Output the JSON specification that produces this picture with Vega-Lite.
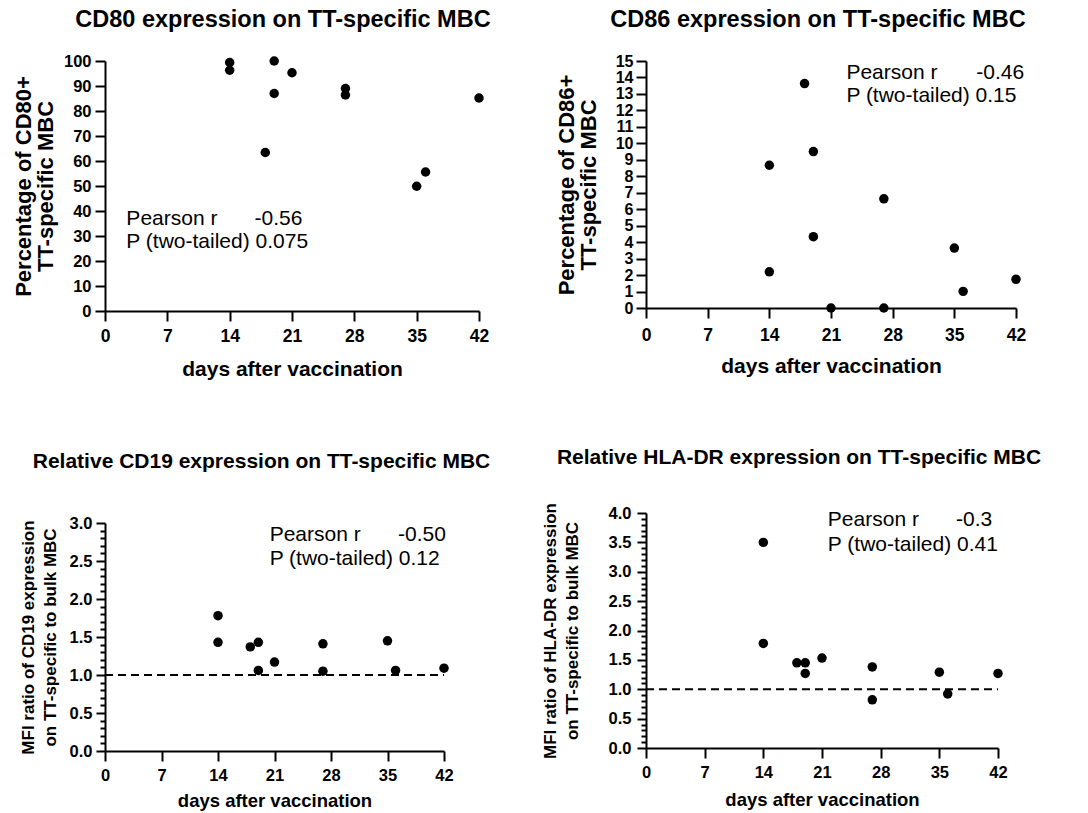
{
  "$schema": "https://vega.github.io/schema/vega-lite/v6.json",
  "background": "white",
  "padding": {"left": 12, "top": 7, "right": 5, "bottom": 3},
  "datasets": {
    "cd80": [
      {"day": 14, "value": 99.4}, {"day": 14, "value": 96.3}, {"day": 18, "value": 63.4},
      {"day": 19, "value": 100}, {"day": 19, "value": 87}, {"day": 21, "value": 95.3},
      {"day": 27, "value": 89}, {"day": 27, "value": 86.4}, {"day": 35, "value": 49.9},
      {"day": 36, "value": 55.6}, {"day": 42, "value": 85.2}
    ],
    "cd86": [
      {"day": 14, "value": 8.67}, {"day": 14, "value": 2.2}, {"day": 18, "value": 13.63},
      {"day": 19, "value": 9.5}, {"day": 19, "value": 4.33}, {"day": 21, "value": 0},
      {"day": 27, "value": 6.63}, {"day": 27, "value": 0}, {"day": 35, "value": 3.64},
      {"day": 36, "value": 1.01}, {"day": 42, "value": 1.74}
    ],
    "cd19": [
      {"day": 14, "value": 1.78}, {"day": 14, "value": 1.43}, {"day": 18, "value": 1.37},
      {"day": 19, "value": 1.43}, {"day": 19, "value": 1.06}, {"day": 21, "value": 1.17},
      {"day": 27, "value": 1.41}, {"day": 27, "value": 1.05}, {"day": 35, "value": 1.45},
      {"day": 36, "value": 1.06}, {"day": 42, "value": 1.09}
    ],
    "hladr": [
      {"day": 14, "value": 3.5}, {"day": 14, "value": 1.78}, {"day": 18, "value": 1.45},
      {"day": 19, "value": 1.45}, {"day": 19, "value": 1.27}, {"day": 21, "value": 1.53},
      {"day": 27, "value": 1.38}, {"day": 27, "value": 0.82}, {"day": 35, "value": 1.29},
      {"day": 36, "value": 0.92}, {"day": 42, "value": 1.27}
    ],
    "refline": [
      {"day": 0, "day2": 42, "value": 1}
    ],
    "s1": [
      {"day": 2.4, "value": 36.7, "label": "Pearson r"},
      {"day": 16.8, "value": 36.7, "label": "-0.56"},
      {"day": 2.4, "value": 27.5, "label": "P (two-tailed) 0.075"}
    ],
    "s2": [
      {"day": 22.75, "value": 14.3, "label": "Pearson r"},
      {"day": 37.5, "value": 14.3, "label": "-0.46"},
      {"day": 22.75, "value": 12.86, "label": "P (two-tailed) 0.15"}
    ],
    "s3": [
      {"day": 20.4, "value": 2.846, "label": "Pearson r"},
      {"day": 36.3, "value": 2.846, "label": "-0.50"},
      {"day": 20.4, "value": 2.53, "label": "P (two-tailed) 0.12"}
    ],
    "s4": [
      {"day": 21.7, "value": 3.874, "label": "Pearson r"},
      {"day": 37.0, "value": 3.874, "label": "-0.3"},
      {"day": 21.7, "value": 3.46, "label": "P (two-tailed) 0.41"}
    ]
  },
  "config": {
    "font": "Liberation Sans",
    "view": {"stroke": null},
    "axis": {
      "grid": false, "domainColor": "black", "domainWidth": 2, "tickColor": "black",
      "tickWidth": 2, "tickSize": 10, "labelColor": "black", "labelFontWeight": "bold",
      "labelFontSize": 17.5, "titleColor": "black", "titleFontWeight": "bold",
      "titleFontSize": 21, "labelPadding": 4, "titlePadding": 6, "labelFlush": false,
      "labelOverlap": false, "titleLineHeight": 21.5, "tickCount": 100
    },
    "axisX": {"labelPadding": 6, "titlePadding": 14, "format": "d"},
    "axisY": {"titleFontSize": 22, "labelFontSize": 16.5},
    "title": {"font": "Liberation Sans", "fontWeight": "bold", "fontSize": 23.5, "color": "black"},
    "text": {"font": "Liberation Sans"}
  },
  "spacing": 50,
  "hconcat": [
    {
      "bounds": "flush",
      "spacing": 212,
      "vconcat": [
        {
          "width": 374, "height": 250,
          "title": {"text": "CD80 expression on TT-specific MBC", "dx": -9, "offset": 22},
          "layer": [
            {
              "data": {"name": "cd80"},
              "mark": {"type": "circle", "size": 90, "color": "black", "opacity": 1},
              "encoding": {
                "x": {"field": "day", "type": "quantitative", "scale": {"domain": [0, 42], "nice": false},
                      "axis": {"values": [0, 7, 14, 21, 28, 35, 42], "title": "days after vaccination"}},
                "y": {"field": "value", "type": "quantitative", "scale": {"domain": [0, 100], "nice": false},
                      "axis": {"values": [0, 10, 20, 30, 40, 50, 60, 70, 80, 90, 100], "format": "d", "title": ["Percentage of CD80+", "TT-specific MBC"], "titlePadding": 6}}
              }
            },
            {
              "data": {"name": "s1"},
              "mark": {"type": "text", "align": "left", "baseline": "middle", "fontSize": 21, "color": "black"},
              "encoding": {
                "x": {"field": "day", "type": "quantitative"},
                "y": {"field": "value", "type": "quantitative"},
                "text": {"field": "label"}
              }
            }
          ]
        },
        {
          "width": 339, "height": 228,
          "title": {"text": "Relative CD19 expression on TT-specific MBC", "dx": -13, "offset": 43, "fontSize": 21},
          "resolve": {"axis": {"y": "independent"}},
          "layer": [
            {
              "data": {"name": "cd19"},
              "mark": {"type": "circle", "size": 90, "color": "black", "opacity": 1},
              "encoding": {
                "x": {"field": "day", "type": "quantitative", "scale": {"domain": [0, 42], "nice": false},
                      "axis": {"values": [0, 7, 14, 21, 28, 35, 42], "title": "days after vaccination", "labelFontSize": 16.5, "titleFontSize": 18.5, "labelPadding": 6, "titlePadding": 8}},
                "y": {"field": "value", "type": "quantitative", "scale": {"domain": [0, 3], "nice": false},
                      "axis": {
                        "orient": "left",
                        "values": [0, 0.5, 1, 1.5, 2, 2.5, 3], "format": ".1f", "tickSize": 9,
                        "labelFontSize": 16.5, "titleFontSize": 17, "titlePadding": 10,
                        "title": ["MFI ratio of CD19 expression", "on TT-specific to bulk MBC"]}}
              }
            },
            {
              "data": {"name": "refline"},
              "mark": {"type": "rule", "strokeDash": [8, 5], "strokeWidth": 2, "color": "black"},
              "encoding": {
                "y": {"field": "value", "type": "quantitative",
                      "axis": {"orient": "left", "values": [0.1, 0.2, 0.3, 0.4, 0.6, 0.7, 0.8, 0.9, 1.1, 1.2, 1.3, 1.4, 1.6, 1.7, 1.8, 1.9, 2.1, 2.2, 2.3, 2.4, 2.6, 2.7, 2.8, 2.9],
                               "tickSize": 5, "labels": false, "domain": false, "title": null}},
                "x": {"field": "day", "type": "quantitative"},
                "x2": {"field": "day2"}
              }
            },
            {
              "data": {"name": "s3"},
              "mark": {"type": "text", "align": "left", "baseline": "middle", "fontSize": 21, "color": "black"},
              "encoding": {
                "x": {"field": "day", "type": "quantitative"},
                "y": {"field": "value", "type": "quantitative", "axis": null},
                "text": {"field": "label"}
              }
            }
          ]
        }
      ]
    },
    {
      "bounds": "flush",
      "spacing": 205,
      "vconcat": [
        {
          "width": 370, "height": 247,
          "title": {"text": "CD86 expression on TT-specific MBC", "dx": -13, "offset": 22},
          "layer": [
            {
              "data": {"name": "cd86"},
              "mark": {"type": "circle", "size": 90, "color": "black", "opacity": 1},
              "encoding": {
                "x": {"field": "day", "type": "quantitative", "scale": {"domain": [0, 42], "nice": false},
                      "axis": {"values": [0, 7, 14, 21, 28, 35, 42], "title": "days after vaccination", "labelPadding": 8, "titlePadding": 12}},
                "y": {"field": "value", "type": "quantitative", "scale": {"domain": [0, 15], "nice": false},
                      "axis": {"values": [0, 1, 2, 3, 4, 5, 6, 7, 8, 9, 10, 11, 12, 13, 14, 15], "format": "d", "labelFontSize": 16, "title": ["Percentage of CD86+", "TT-specific MBC"], "titlePadding": 15, "labelPadding": 3}}
              }
            },
            {
              "data": {"name": "s2"},
              "mark": {"type": "text", "align": "left", "baseline": "middle", "fontSize": 21, "color": "black"},
              "encoding": {
                "x": {"field": "day", "type": "quantitative"},
                "y": {"field": "value", "type": "quantitative"},
                "text": {"field": "label"}
              }
            }
          ]
        },
        {
          "width": 352, "height": 235,
          "title": {"text": "Relative HLA-DR expression on TT-specific MBC", "dx": -23, "offset": 35, "fontSize": 21},
          "resolve": {"axis": {"y": "independent"}},
          "layer": [
            {
              "data": {"name": "hladr"},
              "mark": {"type": "circle", "size": 90, "color": "black", "opacity": 1},
              "encoding": {
                "x": {"field": "day", "type": "quantitative", "scale": {"domain": [0, 42], "nice": false},
                      "axis": {"values": [0, 7, 14, 21, 28, 35, 42], "title": "days after vaccination", "labelFontSize": 16.5, "titleFontSize": 18.5, "labelPadding": 6, "titlePadding": 10}},
                "y": {"field": "value", "type": "quantitative", "scale": {"domain": [0, 4], "nice": false},
                      "axis": {
                        "orient": "left",
                        "values": [0, 0.5, 1, 1.5, 2, 2.5, 3, 3.5, 4], "format": ".1f", "tickSize": 9,
                        "labelFontSize": 16.5, "titleFontSize": 17, "titlePadding": 27, "labelPadding": 6,
                        "title": ["MFI ratio of HLA-DR expression", "on TT-specific to bulk MBC"]}}
              }
            },
            {
              "data": {"name": "refline"},
              "mark": {"type": "rule", "strokeDash": [8, 5], "strokeWidth": 2, "color": "black"},
              "encoding": {
                "y": {"field": "value", "type": "quantitative",
                      "axis": {"orient": "left", "values": [0.1, 0.2, 0.3, 0.4, 0.6, 0.7, 0.8, 0.9, 1.1, 1.2, 1.3, 1.4, 1.6, 1.7, 1.8, 1.9, 2.1, 2.2, 2.3, 2.4, 2.6, 2.7, 2.8, 2.9, 3.1, 3.2, 3.3, 3.4, 3.6, 3.7, 3.8, 3.9],
                               "tickSize": 5, "labels": false, "domain": false, "title": null}},
                "x": {"field": "day", "type": "quantitative"},
                "x2": {"field": "day2"}
              }
            },
            {
              "data": {"name": "s4"},
              "mark": {"type": "text", "align": "left", "baseline": "middle", "fontSize": 21, "color": "black"},
              "encoding": {
                "x": {"field": "day", "type": "quantitative"},
                "y": {"field": "value", "type": "quantitative", "axis": null},
                "text": {"field": "label"}
              }
            }
          ]
        }
      ]
    }
  ]
}
